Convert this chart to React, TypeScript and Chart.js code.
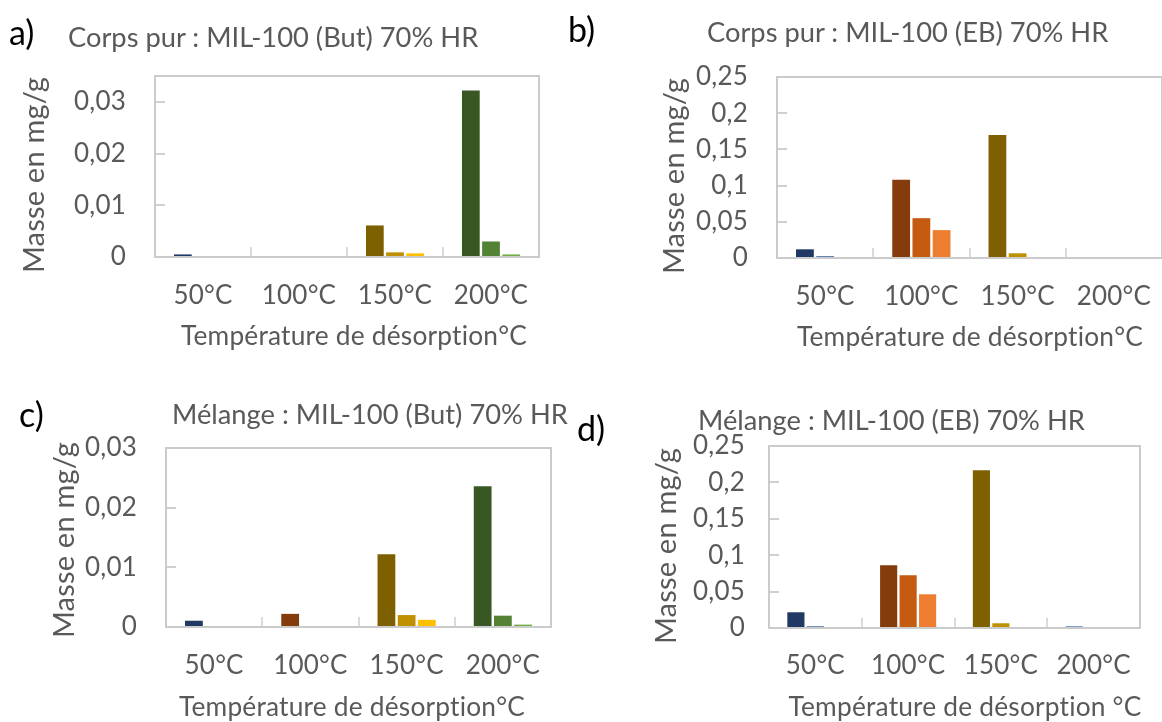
import React, { useEffect, useRef } from 'react';
import { Chart, registerables } from 'chart.js';

Chart.register(...registerables);

// ---------- data ----------
const categories = ['50°C', '100°C', '150°C', '200°C'];

// a) Corps pur : MIL-100 (But)
const aDark = [0.0005, 0, 0.0061, 0.0322];
const aMid = [0, 0, 0.0009, 0.003];
const aLight = [0, 0, 0.0007, 0.0005];
const aTicks = [0, 0.01, 0.02, 0.03];

// b) Corps pur : MIL-100 (EB)
const bDark = [0.012, 0.108, 0.17, 0.0014];
const bMid = [0.0024, 0.055, 0.0065, 0];
const bLight = [0.001, 0.0385, 0.0005, 0];
const bTicks = [0, 0.05, 0.1, 0.15, 0.2, 0.25];

// c) Mélange : MIL-100 (But)
const cDark = [0.00105, 0.0022, 0.0122, 0.0236];
const cMid = [0, 0, 0.002, 0.0019];
const cLight = [0, 0, 0.0012, 0.0004];
const cTicks = [0, 0.01, 0.02, 0.03];

// d) Mélange : MIL-100 (EB)
const dDark = [0.0216, 0.0861, 0.2166, 0.0023];
const dMid = [0.0023, 0.0724, 0.0065, 0];
const dLight = [0.0007, 0.0463, 0.0005, 0];
const dTicks = [0, 0.05, 0.1, 0.15, 0.2, 0.25];

const shadeDark = ['#1F3864', '#843C0C', '#7F6000', '#385723'];
const shadeMid = ['#2F5597', '#C55A11', '#BF9000', '#548235'];
const shadeLight = ['#8FAADC', '#ED7D31', '#FFC000', '#70AD47'];
const shadeDarkD = ['#1F3864', '#843C0C', '#7F6000', '#4472C4'];

const yTitle = 'Masse en mg/g';
const FONT = 'Lato, "Open Sans", sans-serif';
const TEXT = '#595959';
const TICK_SIZE = 26;
const XTITLE_SIZE = 26.3;
const YTITLE_SIZE = 29;
const HEAD_SIZE = 27.3;

type PanelSpec = {
  left: number; top: number; w: number; h: number;
  l: number; t: number; r: number; b: number;
  yMax: number; yTicks: number[];
  yLabelGap: number; yTitleX: number; yTitleCY: number;
  xLabelY: number; xTitleCX: number; xTitleY: number;
  xTitle: string;
  series: number[][];
  colors: string[][];
};

const panels: PanelSpec[] = [
  {
    left: 0, top: 0, w: 581, h: 361, l: 155, t: 76, r: 539, b: 257,
    yMax: 0.035, yTicks: aTicks,
    yLabelGap: 29, yTitleX: 35, yTitleCY: 175, xLabelY: 296, xTitleCX: 354, xTitleY: 337,
    xTitle: 'Température de désorption°C',
    series: [aDark, aMid, aLight], colors: [shadeDark, shadeMid, shadeLight],
  },
  {
    left: 581, top: 0, w: 581, h: 361, l: 196, t: 77, r: 581, b: 258,
    yMax: 0.25, yTicks: bTicks,
    yLabelGap: 29, yTitleX: 94, yTitleCY: 176, xLabelY: 297, xTitleCX: 389, xTitleY: 338,
    xTitle: 'Température de désorption°C',
    series: [bDark, bMid, bLight], colors: [shadeDark, shadeMid, shadeLight],
  },
  {
    left: 0, top: 361, w: 581, h: 361, l: 166, t: 87, r: 551, b: 266,
    yMax: 0.03, yTicks: cTicks,
    yLabelGap: 29, yTitleX: 65, yTitleCY: 179, xLabelY: 305, xTitleCX: 352, xTitleY: 347,
    xTitle: 'Température de désorption°C',
    series: [cDark, cMid, cLight], colors: [shadeDark, shadeMid, shadeLight],
  },
  {
    left: 581, top: 361, w: 581, h: 361, l: 188, t: 85, r: 559, b: 267,
    yMax: 0.25, yTicks: dTicks,
    yLabelGap: 24, yTitleX: 86, yTitleCY: 185, xLabelY: 305, xTitleCX: 384, xTitleY: 347,
    xTitle: 'Température de désorption °C',
    series: [dDark, dMid, dLight], colors: [shadeDarkD, shadeMid, shadeLight],
  },
];

const labelsText = [
  { text: 'a)', x: 9, cy: 32, size: 34, color: '#000' },
  { text: 'Corps pur : MIL-100 (But) 70% HR', x: 68, cy: 37, size: HEAD_SIZE, color: TEXT },
  { text: 'b)', x: 568, cy: 29, size: 34, color: '#000' },
  { text: 'Corps pur : MIL-100 (EB) 70% HR', x: 707, cy: 32, size: HEAD_SIZE, color: TEXT },
  { text: 'c)', x: 19, cy: 414, size: 34, color: '#000' },
  { text: 'Mélange : MIL-100 (But) 70% HR', x: 172, cy: 414, size: HEAD_SIZE, color: TEXT },
  { text: 'd)', x: 577, cy: 428, size: 34, color: '#000' },
  { text: 'Mélange : MIL-100 (EB) 70% HR', x: 698, cy: 420, size: HEAD_SIZE, color: TEXT },
];

const fmt = (v: number) => String(Number(v.toFixed(4))).replace('.', ',');

const spacing = {
  id: 'spacing',
  beforeUpdate(chart: any) { chart.ctx.letterSpacing = '0.2px'; },
  beforeDraw(chart: any) { chart.ctx.letterSpacing = '0.2px'; },
};

const decor = {
  id: 'decor',
  afterDatasetsDraw(chart: any) {
    const { ctx, chartArea } = chart;
    const x = chart.scales.x;
    const y = chart.scales.y;
    ctx.save();
    ctx.strokeStyle = '#D0D0D0';
    ctx.lineWidth = 2;
    y.ticks.forEach((t: any) => {
      const py = Math.round(y.getPixelForValue(t.value));
      if (py >= chartArea.bottom - 1) return;
      ctx.beginPath();
      ctx.moveTo(chartArea.left, py);
      ctx.lineTo(chartArea.left + 10, py);
      ctx.stroke();
    });
    ctx.strokeStyle = '#DADADA';
    for (let i = 1; i < categories.length; i++) {
      const px = Math.round(x.getPixelForValue(i - 0.5));
      ctx.beginPath();
      ctx.moveTo(px, chartArea.bottom);
      ctx.lineTo(px, chartArea.bottom - 10);
      ctx.stroke();
    }
    ctx.strokeStyle = '#CBCBCB';
    ctx.lineWidth = 2;
    ctx.strokeRect(chartArea.left, chartArea.top, chartArea.right - chartArea.left, chartArea.bottom - chartArea.top);
    ctx.restore();
  },
  afterDraw(chart: any, _args: any, opts: any) {
    const p: PanelSpec = opts.panel;
    const { ctx } = chart;
    ctx.save();
    ctx.fillStyle = TEXT;
    ctx.textAlign = 'center';
    ctx.textBaseline = 'middle';
    ctx.font = `${XTITLE_SIZE}px ${FONT}`;
    ctx.fillText(p.xTitle, p.xTitleCX, p.xTitleY);
    ctx.font = `${YTITLE_SIZE}px ${FONT}`;
    ctx.translate(p.yTitleX, p.yTitleCY);
    ctx.rotate(-Math.PI / 2);
    ctx.fillText(yTitle, 0, 0);
    ctx.restore();
  },
};

function Panel({ p }: { p: PanelSpec }) {
  const ref = useRef<HTMLCanvasElement | null>(null);
  useEffect(() => {
    if (!ref.current) return;
    const tickLine = TICK_SIZE * 1.2;
    const chart = new Chart(ref.current, {
      type: 'bar',
      data: {
        labels: categories,
        datasets: p.series.map((s, i) => ({
          label: 'S' + (i + 1),
          data: s,
          backgroundColor: p.colors[i],
          borderWidth: 0,
          categoryPercentage: 0.63,
          barPercentage: 0.88,
        })),
      },
      options: {
        responsive: false,
        animation: false,
        devicePixelRatio: 1,
        layout: { padding: { top: p.t, right: p.w - p.r, bottom: 0, left: 0 } },
        plugins: {
          legend: { display: false },
          tooltip: { enabled: false },
          title: { display: false },
          decor: { panel: p },
        },
        scales: {
          x: {
            grid: { display: false, drawTicks: false },
            border: { display: false },
            ticks: {
              color: TEXT,
              font: { family: FONT, size: TICK_SIZE },
              padding: p.xLabelY - p.b - tickLine / 2,
              maxRotation: 0,
              autoSkip: false,
            },
            title: { display: false },
            afterFit: (s: any) => {
              s.height = p.h - p.b;
              s.paddingLeft = 0; s.paddingRight = 0;
            },
          },
          y: {
            min: 0,
            max: p.yMax,
            grid: { display: false, drawTicks: false },
            border: { display: false },
            ticks: {
              color: TEXT,
              font: { family: FONT, size: TICK_SIZE },
              padding: p.yLabelGap,
              callback: (v: any) => fmt(Number(v)),
            },
            afterBuildTicks: (s: any) => {
              s.ticks = p.yTicks.map((v) => ({ value: v }));
            },
            title: { display: false },
            afterFit: (s: any) => {
              s.width = p.l;
              s.paddingTop = 0; s.paddingBottom = 0;
            },
          },
        },
      },
      plugins: [spacing, decor],
    } as any);
    return () => chart.destroy();
  }, [p]);
  return (
    <canvas
      ref={ref}
      width={p.w}
      height={p.h}
      style={{ position: 'absolute', left: p.left, top: p.top, width: p.w, height: p.h, display: 'block' }}
    />
  );
}

export default function App() {
  return (
    <div style={{ position: 'fixed', left: 0, top: 0, width: 1162, height: 722, background: '#fff', overflow: 'hidden' }}>
      {panels.map((p, i) => (
        <Panel key={i} p={p} />
      ))}
      {labelsText.map((t, i) => (
        <div
          key={'t' + i}
          style={{
            position: 'absolute',
            left: t.x,
            top: t.cy - t.size * 0.6,
            fontFamily: FONT,
            fontSize: t.size,
            lineHeight: 1.2,
            color: t.color,
            whiteSpace: 'nowrap',
          }}
        >
          {t.text}
        </div>
      ))}
    </div>
  );
}
